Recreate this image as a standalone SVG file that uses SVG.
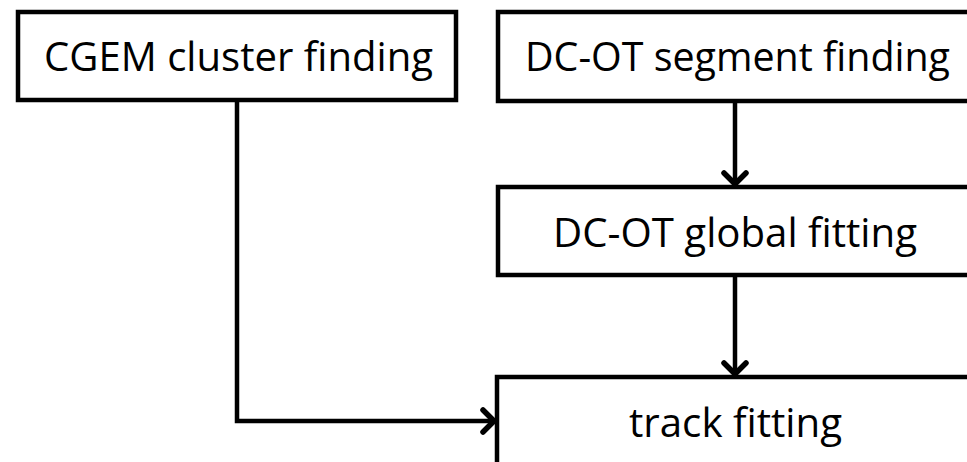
<svg xmlns="http://www.w3.org/2000/svg" width="967" height="462" viewBox="0 0 967 462">
<style>
.box{fill:#fff;stroke:#000;stroke-width:4.5}
.lbl{font-family:"Open Sans","Liberation Sans",sans-serif;font-size:41px;fill:#000}
.conn{fill:none;stroke:#000;stroke-width:4.5}
</style>
<defs>
<marker id="arr" viewBox="0 0 18 28" refX="15" refY="14" markerWidth="18" markerHeight="28" markerUnits="userSpaceOnUse" orient="auto">
<path d="M3,3 L14,14 L3,25" fill="none" stroke="#000" stroke-width="5.5" stroke-linecap="round" stroke-linejoin="round"/>
</marker>
</defs>
<rect width="967" height="462" fill="#fff"/>
<g id="connectors">
<path class="conn" d="M237,100 V421 H495" marker-end="url(#arr)"/>
<path class="conn" d="M735,101 V185" marker-end="url(#arr)"/>
<path class="conn" d="M735,276 V375" marker-end="url(#arr)"/>
</g>
<g id="cgem">
<rect class="box" x="18" y="12" width="438" height="88"/>
<text class="lbl" x="44" y="71" textLength="389" lengthAdjust="spacingAndGlyphs">CGEM cluster finding</text>
</g>
<g id="segment">
<rect class="box" x="498" y="12" width="480" height="89"/>
<text class="lbl" x="525" y="71" textLength="425" lengthAdjust="spacingAndGlyphs">DC-OT segment finding</text>
</g>
<g id="global">
<rect class="box" x="498" y="187" width="480" height="88"/>
<text class="lbl" x="553" y="247" textLength="364" lengthAdjust="spacingAndGlyphs">DC-OT global fitting</text>
</g>
<g id="track">
<rect class="box" x="497" y="377" width="480" height="100"/>
<text class="lbl" x="629" y="437" textLength="213" lengthAdjust="spacingAndGlyphs">track fitting</text>
</g>
</svg>
